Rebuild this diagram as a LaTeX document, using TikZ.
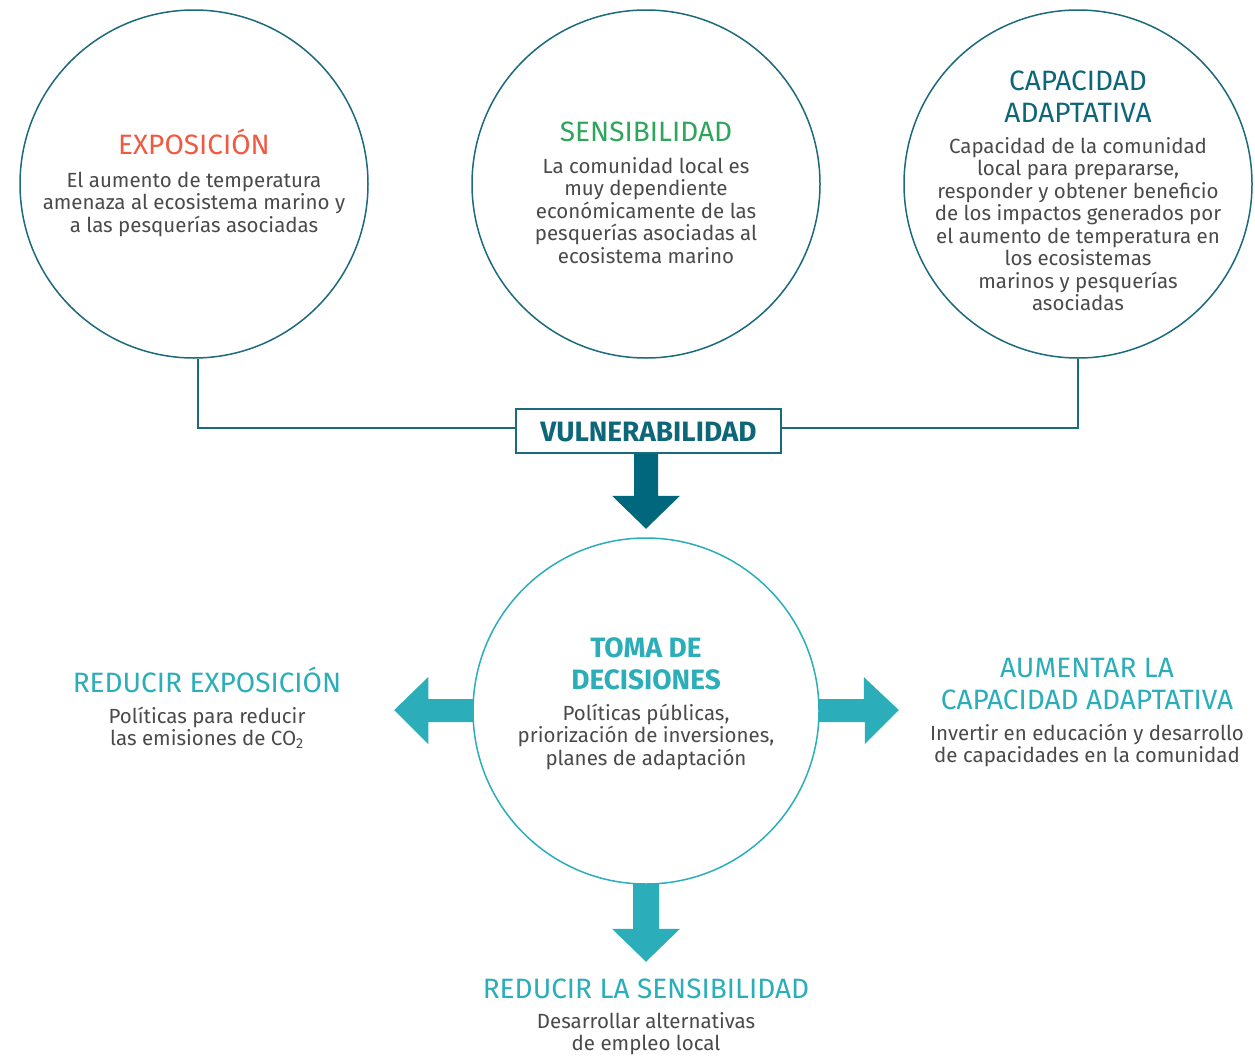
\documentclass[tikz,border=0pt]{standalone}
\usepackage{fontspec}
\setmainfont{Fira Sans}
\usetikzlibrary{calc}
\definecolor{expo}{HTML}{F15A42}
\definecolor{sens}{HTML}{2EA55B}
\definecolor{darkteal}{HTML}{0E6679}
\definecolor{ringdark}{HTML}{1C6B7C}
\definecolor{lightteal}{HTML}{2BAEB9}
\definecolor{bodygray}{HTML}{4A4A4A}
\definecolor{arrowdark}{HTML}{00677D}
\tikzset{
  ringtop/.style={circle, draw=ringdark, line width=1.5pt, minimum size=348pt, inner sep=0pt},
  ringbot/.style={circle, draw=lightteal, line width=1.5pt, minimum size=346pt, inner sep=0pt},
  title/.style={font=\fontsize{28}{32}\selectfont, align=center, inner sep=0pt, anchor=base},
  btitle/.style={font=\bfseries\fontsize{28}{32}\selectfont, align=center, inner sep=0pt, anchor=base},
  body/.style={font=\fontsize{20.5}{22.5}\selectfont, align=center, inner sep=0pt, anchor=base, text=bodygray},
  connector/.style={draw=ringdark, line width=1.5pt},
  vbox/.style={draw=ringdark, line width=1.5pt, minimum width=265pt, minimum height=44pt, inner sep=0pt, fill=white},
  darkblock/.style={fill=arrowdark},
  lightblock/.style={fill=lightteal}
}
\begin{document}
\begin{tikzpicture}[x=1pt,y=-1pt]
\useasboundingbox[fill=white] (0,0) rectangle (1255,1055);

% top circles
\node[ringtop] (c1) at (194,184) {};
\node[ringtop] (c2) at (646,184) {};
\node[ringtop] (c3) at (1078,184) {};

\node[title, text=expo] (t1) at (194,154) {EXPOSICIÓN};
\node[body] (b1) at (194,232) {El aumento de temperatura\\amenaza al ecosistema marino y\\a las pesquerías asociadas};

\node[title, text=sens] (t2) at (646,141) {SENSIBILIDAD};
\node[body] (b2) at (646,263) {La comunidad local es\\muy dependiente\\económicamente de las\\pesquerías asociadas al\\ecosistema marino};

\node[title, text=darkteal] (t3) at (1078,122) {CAPACIDAD\\ADAPTATIVA};
\node[body] (b3) at (1078,310.5) {Capacidad de la comunidad\\local para prepararse,\\responder y obtener beneficio\\de los impactos generados por\\el aumento de temperatura en\\los ecosistemas\\marinos y pesquerías\\asociadas};

% vulnerabilidad box
\node[vbox] (v) at (648.5,431) {};
\node[btitle, text=darkteal] (vt) at (648.5,441) {VULNERABILIDAD};

\draw[connector] ([xshift=4pt]c1.south) |- ([yshift=3pt]v.west);
\draw[connector] (c3.south) |- ([yshift=3pt]v.east);

% bottom circle
\node[ringbot] (c4) at (646,711) {};
\node[btitle, text=lightteal] (t4) at (646,689) {TOMA DE\\DECISIONES};
\node[body] (b4) at (646,765) {Políticas públicas,\\priorización de inversiones,\\planes de adaptación};

% dark arrow from the box to the decision circle
\coordinate (vs) at (v.south -| c4.north);
\fill[darkblock] ($(vs)+(-12,0)$) -- ++(0,42) -- ++(-22,0) -- ($(vs)+(0,75)$) -- ($(vs)+(34,42)$) -- ++(-22,0) -- ($(vs)+(12,0)$) -- cycle;

% left arrow
\coordinate (lw) at (c4.west);
\fill[lightblock] ($(lw)+(1,-12)$) -- ++(-45,0) -- ++(0,-22) -- ($(lw)+(-78,-1)$) -- ($(lw)+(-44,33)$) -- ++(0,-22) -- ($(lw)+(1,11)$) -- cycle;
% right arrow
\coordinate (le) at (c4.east);
\fill[lightblock] ($(le)+(-1,-12)$) -- ++(45,0) -- ++(0,-22) -- ($(le)+(79,-1)$) -- ($(le)+(45,33)$) -- ++(0,-22) -- ($(le)+(-1,11)$) -- cycle;
% bottom arrow
\coordinate (ls) at (c4.south);
\fill[lightblock] ($(ls)+(-13,-1)$) -- ++(0,45) -- ++(-21,0) -- ($(ls)+(0,77)$) -- ($(ls)+(34,44)$) -- ++(-21,0) -- ($(ls)+(13,-1)$) -- cycle;

% outcomes
\node[title, text=lightteal] (t5) at (207,692) {REDUCIR EXPOSICIÓN};
\node[body] (b5) at (207,745.5) {Políticas para reducir\\las emisiones de CO\textsubscript{2}};

\node[title, text=lightteal] (t6) at (1087,709) {AUMENTAR LA\\CAPACIDAD ADAPTATIVA};
\node[body] (b6) at (1087,762.5) {Invertir en educación y desarrollo\\de capacidades en la comunidad};

\node[title, text=lightteal] (t7) at (646,998) {REDUCIR LA SENSIBILIDAD};
\node[body] (b7) at (646,1050.5) {Desarrollar alternativas\\de empleo local};
\end{tikzpicture}
\end{document}
